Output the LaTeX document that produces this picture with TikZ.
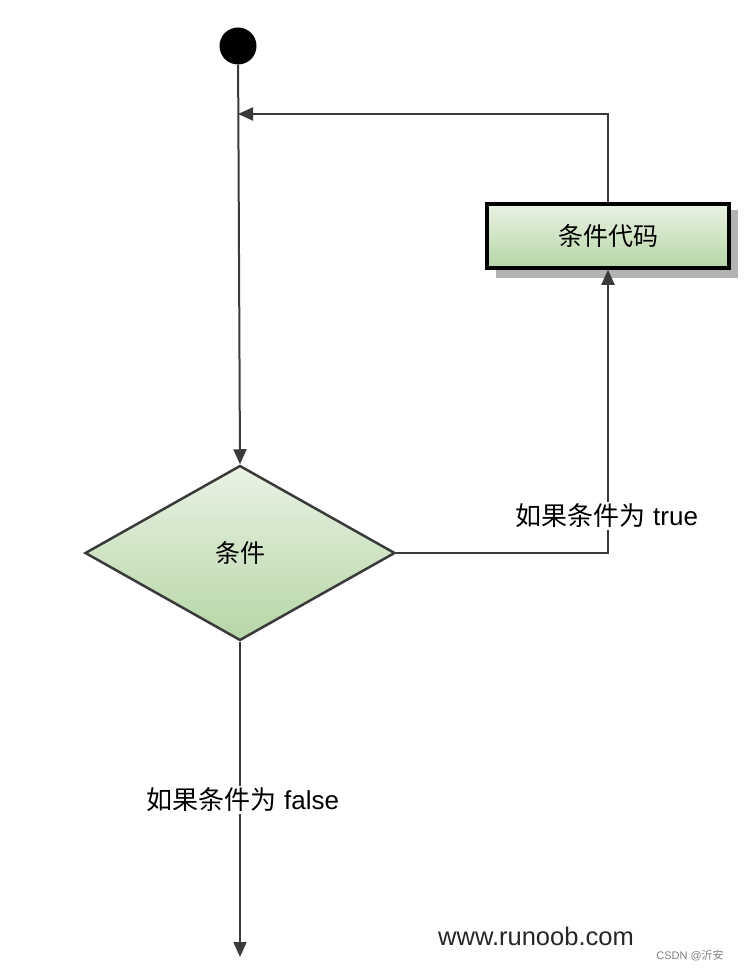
\documentclass[tikz,border=0pt]{standalone}
\usepackage{fontspec}
\setmainfont{Liberation Sans}
\newfontfamily\cjk{Noto Sans CJK SC}
\usetikzlibrary{shapes.geometric,arrows.meta,shadows}
\definecolor{lineC}{HTML}{3A3A3A}
\definecolor{gTop}{HTML}{E9F2E4}
\definecolor{gBot}{HTML}{B6D6A6}
\tikzset{
  conn/.style={draw=lineC, line width=2pt, -{Triangle[length=15pt,width=13pt]}},
  codebox/.style={rectangle, draw=black, line width=3.5pt, top color=gTop, bottom color=gBot,
    minimum width=242pt, minimum height=64pt, inner sep=0pt,
    font=\fontsize{25}{29}\selectfont\cjk},
  shadowbox/.style={rectangle, fill=black!30, minimum width=242pt, minimum height=68pt, inner sep=0pt},
  decision/.style={diamond, draw=lineC, line width=2.5pt, top color=gTop, bottom color=gBot,
    minimum width=310pt, minimum height=175pt, inner sep=0pt,
    font=\fontsize{25}{29}\selectfont\cjk},
  lab/.style={fill=white, inner sep=2pt, font=\fontsize{26}{30}\selectfont},
  startdot/.style={circle, fill=black, minimum size=37pt, inner sep=0pt},
}
\begin{document}
\begin{tikzpicture}[x=1pt,y=-1pt]
\useasboundingbox (0,0) rectangle (755,973);
% nodes
\node[startdot] (start) at (238,46) {};
\node[shadowbox] (shadow) at (617,244) {};
\node[codebox] (box) at (608,236) {条件代码};
\node[decision] (cond) at (240,553) {条件};
\coordinate (loopin) at (238,114);
\coordinate (endpt) at (240,957);
% connectors
\draw[conn] (start) -- (cond.north);
\draw[conn] (box.north) |- (loopin);
\draw[conn] (cond.east) -| (box.south);
\draw[conn] (cond.south) -- (endpt);
% labels
\node[lab] (ltrue) at (607,516) {{\cjk 如果条件为} true};
\node[lab] (lfalse) at (243,800) {{\cjk 如果条件为} false};
\node[font=\fontsize{25.5}{29}\selectfont, text=black!85] (site) at (536,936) {www.runoob.com};
\node[font=\fontsize{11}{13}\selectfont, text=black!50] (csdn) at (690,956) {CSDN @{\cjk 沂安}};
\end{tikzpicture}
\end{document}
